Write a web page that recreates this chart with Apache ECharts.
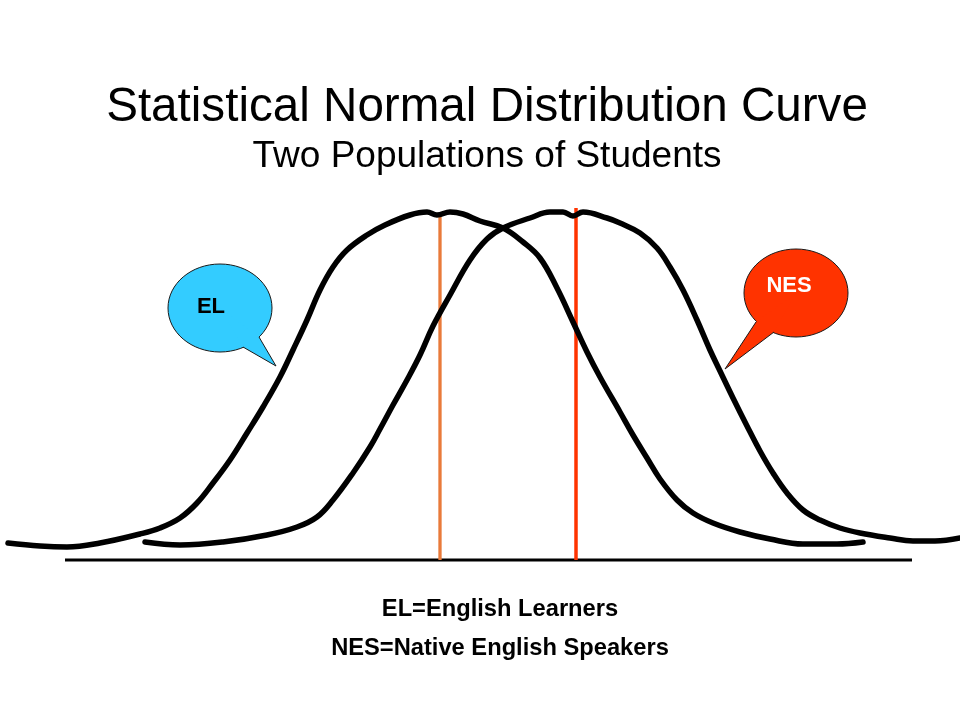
<!DOCTYPE html>
<html>
<head>
<meta charset="utf-8">
<script src="https://cdn.jsdelivr.net/npm/echarts@6/dist/echarts.min.js"></script>
<style>html,body{margin:0;padding:0;background:#fff;}#chart{width:960px;height:720px;}</style>
</head>
<body>
<div id="chart"></div>
<script>
// score axis (x) and frequency (y) values
const elScores = [8,40,67,100,140,160,180,197,213,230,247,263,280,293,307,320,333,347,367,385,410,427,437,450,463,480,503,523,540,557,573,587,600,620,633,647,660,677,693,713,740,770,803,837,863];
const elFreq   = [17,14,13,17,26,32,42,57,77,100,127,153,183,210,240,270,293,310,325,335,345,348,345,348,346,339,332,318,302,272,238,208,183,148,125,102,81,60,47,37,28,21,16,16,18];
const nesScores = [145,180,223,267,297,317,333,353,370,380,393,407,420,433,450,470,487,503,530,550,563,573,583,607,620,640,657,670,683,697,710,720,733,747,760,773,787,803,820,840,860,890,913,935,960];
const nesFreq   = [18,15,18,25,33,43,60,87,113,131,155,180,205,234,265,300,321,332,342,348,348,344,348,342,337,327,312,293,270,240,210,189,162,134,109,87,67,50,40,32,27,22,19,19,22];
const baselineExtent = [65, 912];
const elMean = 440, elMeanTop = 345;
const nesMean = 576, nesMeanTop = 352;
const titleText = 'Statistical Normal Distribution Curve';
const subtitleText = 'Two Populations of Students';
const noteLines = ['EL=English Learners', 'NES=Native English Speakers'];
const bubbleLabels = ['EL', 'NES'];

const zip = (a, b) => a.map((v, i) => [v, b[i]]);
const FONT = "'Liberation Sans', Arial, sans-serif";

function bubble(cx, cy, b1, tip, b2, fill, z) {
  return [
    {type: 'ellipse', z: z, shape: {cx: cx, cy: cy, rx: 52, ry: 44}, style: {fill: fill, stroke: '#1a1a1a', lineWidth: 1}},
    {type: 'polygon', z: z + 1, shape: {points: [b1, tip, b2, [cx, cy]]}, style: {fill: fill, stroke: null}},
    {type: 'polyline', z: z + 2, shape: {points: [b1, tip, b2]}, style: {fill: null, stroke: '#1a1a1a', lineWidth: 1}}
  ];
}

const chart = echarts.init(document.getElementById('chart'), null, {renderer: 'canvas'});
chart.setOption({
  backgroundColor: '#ffffff',
  animation: false,
  grid: {left: 0, right: 0, top: 212, bottom: 160},
  xAxis: {
    type: 'value', min: 0, max: 960, show: false,
    splitLine: {show: false}
  },
  yAxis: {
    type: 'value', min: 0, max: 348, show: false,
    splitLine: {show: false}
  },
  series: [
    {type: 'line', name: 'baseline', data: [[baselineExtent[0], 0], [baselineExtent[1], 0]], symbol: 'none', clip: false,
     lineStyle: {color: '#000', width: 3}, z: 1},
    {type: 'line', name: 'EL mean', data: [[elMean, 0], [elMean, elMeanTop]], symbol: 'none', clip: false,
     lineStyle: {color: '#E97A3A', width: 3.3}, z: 1},
    {type: 'line', name: 'NES mean', data: [[nesMean, 0], [nesMean, nesMeanTop]], symbol: 'none', clip: false,
     lineStyle: {color: '#FF3300', width: 3.5}, z: 1},
    {type: 'line', name: 'EL', data: zip(elScores, elFreq), symbol: 'none', smooth: 0.4, clip: false,
     lineStyle: {color: '#000', width: 5.5, cap: 'round', join: 'round'}, z: 3},
    {type: 'line', name: 'NES', data: zip(nesScores, nesFreq), symbol: 'none', smooth: 0.4, clip: false,
     lineStyle: {color: '#000', width: 5.5, cap: 'round', join: 'round'}, z: 3}
  ],
  graphic: [
    {type: 'text', x: 487, y: 108, style: {text: titleText, font: '47.6px ' + FONT, fill: '#000', align: 'center', verticalAlign: 'middle'}},
    {type: 'text', x: 487, y: 157, style: {text: subtitleText, font: '37px ' + FONT, fill: '#000', align: 'center', verticalAlign: 'middle'}},
    {type: 'text', x: 500, y: 609, style: {text: noteLines[0], font: 'bold 23.7px ' + FONT, fill: '#000', align: 'center', verticalAlign: 'middle'}},
    {type: 'text', x: 500, y: 648, style: {text: noteLines[1], font: 'bold 23.7px ' + FONT, fill: '#000', align: 'center', verticalAlign: 'middle'}}
  ].concat(
    bubble(220, 308, [259, 337], [276, 366], [243, 347], '#33CCFF', 10),
    bubble(796, 293, [756, 322], [725, 369], [774, 332], '#FF3300', 10),
    [
      {type: 'text', x: 211, y: 307, z: 20, style: {text: bubbleLabels[0], font: 'bold 22px ' + FONT, fill: '#000', align: 'center', verticalAlign: 'middle'}},
      {type: 'text', x: 789, y: 286, z: 20, style: {text: bubbleLabels[1], font: 'bold 22px ' + FONT, fill: '#fff', align: 'center', verticalAlign: 'middle'}}
    ]
  )
});
</script>
</body>
</html>
